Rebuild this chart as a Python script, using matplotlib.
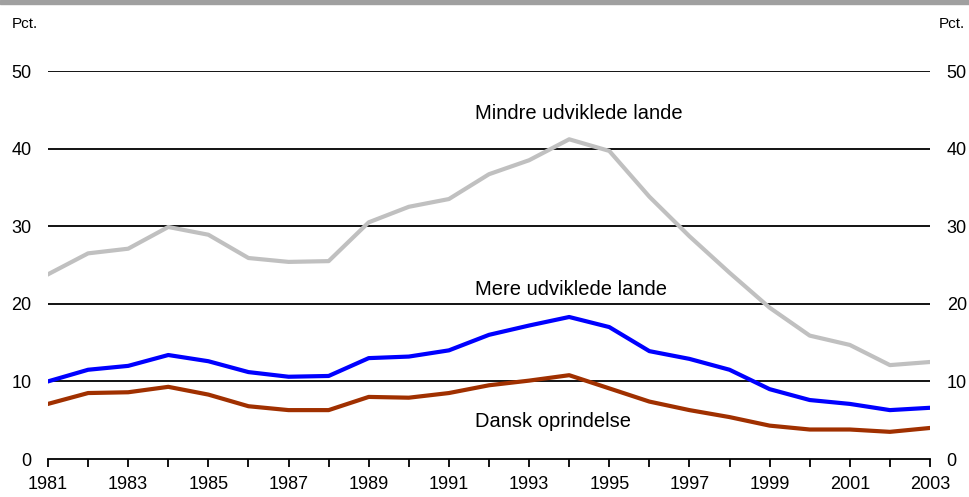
import matplotlib
matplotlib.use("Agg")
import matplotlib.pyplot as plt
from matplotlib.patches import Rectangle

plt.rcParams['font.family'] = ['Liberation Sans', 'DejaVu Sans']

years = list(range(1981, 2004))

# Pct. per group
mindre = [23.8, 26.5, 27.1, 29.9, 28.9, 25.9, 25.4, 25.5, 30.5, 32.5, 33.5, 36.7,
          38.5, 41.2, 39.7, 33.8, 28.7, 24.0, 19.5, 15.9, 14.7, 12.1, 12.5]
mere = [10.0, 11.5, 12.0, 13.4, 12.6, 11.2, 10.6, 10.7, 13.0, 13.2, 14.0, 16.0,
        17.2, 18.3, 17.0, 13.9, 12.9, 11.5, 9.0, 7.6, 7.1, 6.3, 6.6]
dansk = [7.1, 8.5, 8.6, 9.3, 8.3, 6.8, 6.3, 6.3, 8.0, 7.9, 8.5, 9.5,
         10.1, 10.8, 9.1, 7.4, 6.3, 5.4, 4.3, 3.8, 3.8, 3.5, 4.0]

yticks = [0, 10, 20, 30, 40, 50]

fig = plt.figure(figsize=(9.7, 4.97), dpi=100)
ax = fig.add_axes([48 / 970, 1 - 459 / 497, 882 / 970, 388 / 497])

# grey band at the very top
fig.patches.append(Rectangle((0, 1 - 4 / 497), 1, 4 / 497, transform=fig.transFigure,
                             color='#a0a0a0', zorder=0))

for t in yticks[1:]:
    ax.axhline(t, color='black', lw=1.3, zorder=1)

ax.plot(years, mindre, color='#c0c0c0', lw=3, zorder=3)
ax.plot(years, mere, color='#0000ff', lw=3, zorder=3)
ax.plot(years, dansk, color='#a03000', lw=3, zorder=3)

ax.set_xlim(1981, 2003)
ax.set_ylim(0, 50)

for s in ['top', 'left', 'right']:
    ax.spines[s].set_visible(False)
ax.spines['bottom'].set_linewidth(1.3)

ax.set_xticks(years)
ax.set_xticklabels([str(y) if y % 2 == 1 else '' for y in years], fontsize=13)
ax.tick_params(axis='x', direction='out', length=6, width=1.3, pad=6)

ax.set_yticks(yticks)
ax.set_yticklabels([str(t) for t in yticks], fontsize=13)
ax.tick_params(axis='y', length=0, pad=12, labelleft=True, labelright=True)

ax.text(1991.65, 44.5, 'Mindre udviklede lande', fontsize=14.5, va='center', ha='left')
ax.text(1991.65, 21.9, 'Mere udviklede lande', fontsize=14.5, va='center', ha='left')
ax.text(1991.65, 4.8, 'Dansk oprindelse', fontsize=14.5, va='center', ha='left')

fig.text(12 / 970, 1 - 24 / 497, 'Pct.', fontsize=11, va='center', ha='left')
fig.text(965 / 970, 1 - 24 / 497, 'Pct.', fontsize=11, va='center', ha='right')

fig.savefig('out.png', dpi=100)
